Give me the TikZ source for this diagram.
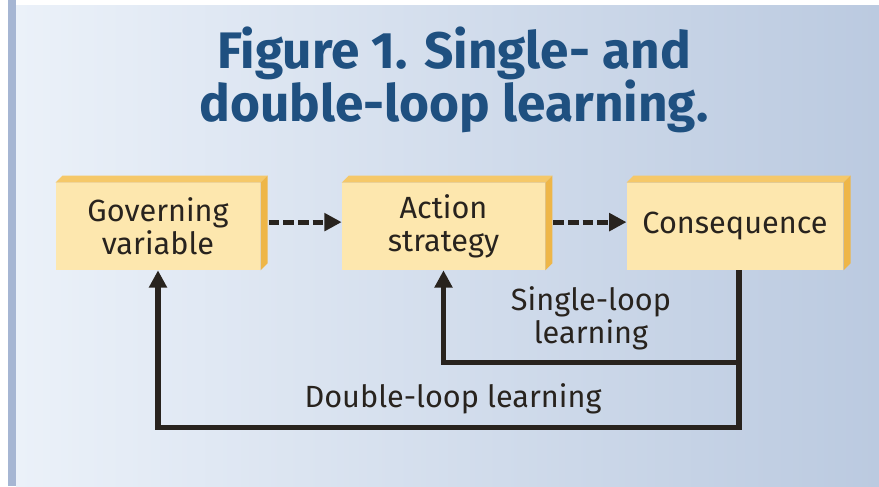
\documentclass[tikz,border=0pt]{standalone}
\usepackage{fontspec}
\setmainfont{Fira Sans}
\usetikzlibrary{arrows.meta,calc}

\definecolor{panelL}{RGB}{235,241,249}
\definecolor{panelR}{RGB}{187,202,224}
\definecolor{stripe}{RGB}{166,182,211}
\definecolor{faceyellow}{RGB}{253,231,174}
\definecolor{topyellow}{RGB}{245,200,105}
\definecolor{sideyellow}{RGB}{238,182,72}
\definecolor{titleblue}{RGB}{31,80,128}
\definecolor{textdark}{RGB}{40,35,30}

\tikzset{every picture/.style={line width=0.75pt}}
\tikzset{
  facebox/.style={fill=faceyellow, inner sep=0pt, minimum height=65pt, align=center,
    text=textdark, font=\fontsize{23}{25}\selectfont},
  title/.style={align=center, text=titleblue, font=\fontsize{38.5}{40}\selectfont\bfseries},
  lbl/.style={align=center, text=textdark, font=\fontsize{23}{25}\selectfont},
  dasharrow/.style={line width=3.8pt, dash pattern={on 8pt off 3pt}, textdark,
    -{Triangle[length=13pt,width=13pt]}},
  looparrow/.style={line width=3.8pt, textdark, -{Triangle[length=13pt,width=13pt]}}
}

\begin{document}
\begin{tikzpicture}[x=0.75pt,y=0.75pt,yscale=-1,xscale=1]
\useasboundingbox (0,0) rectangle (879,486);

%Shape: Rectangle [id:background]
\fill [white] (0,0) rectangle (879,486);
\fill [stripe] (8,0) rectangle (16,486);
\shade [left color=panelL, right color=panelR] (16,5) rectangle (879,486);

%Text: title
\node [title] (ttl) at (454,80) {Figure 1. Single- and\\double-loop learning.};

%Shape: front faces
\node [facebox, minimum width=153pt] (gov) at (158,226.5) {Governing\\variable};
\node [facebox, minimum width=152pt] (act) at (443.5,226.5) {Action\\strategy};
\node [facebox, minimum width=162pt] (cons) at (735,226.5) {Consequence};

%Shape: top and side faces
\foreach \b in {gov,act,cons}{
  \fill [topyellow] (\b.north west) -- ++(7,-7) -- ([shift={(7,-7)}]\b.north east) -- (\b.north east) -- cycle;
  \fill [sideyellow] (\b.north east) -- ([shift={(7,-7)}]\b.north east) -- ([shift={(7,-7)}]\b.south east) -- (\b.south east) -- cycle;
}

%Straight Lines: dashed arrows
\draw [dasharrow] ($(gov.north east)!0.45!(gov.south east) + (8,0)$) -- ($(act.north west)!0.45!(act.south west)$);
\draw [dasharrow] ($(act.north east)!0.45!(act.south east) + (8,0)$) -- ($(cons.north west)!0.45!(cons.south west)$);

%Shape: feedback loops
\draw [looparrow] ($(cons.south) + (4,0)$) -- ++(0,92) -| (act.south);
\draw [looparrow] ($(cons.south) + (4,0)$) -- ++(0,157) -| (gov.south);

%Text: loop labels
\node [lbl] (sll) at (591,318) {Single-loop\\learning};
\node [lbl] (dll) at (453,399) {Double-loop learning};

\end{tikzpicture}
\end{document}
